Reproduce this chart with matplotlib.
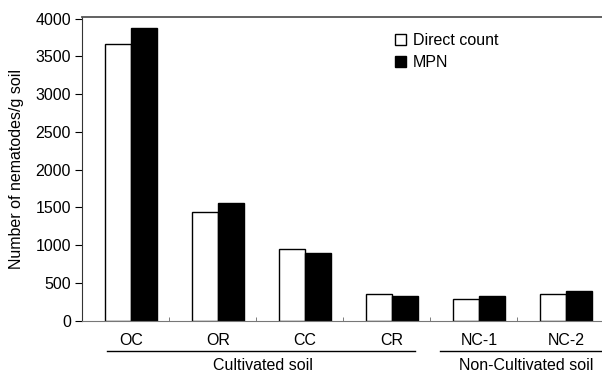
import matplotlib.pyplot as plt
from matplotlib.patches import Patch
import numpy as np

# values (nematodes per g soil)
sites = ["OC", "OR", "CC", "CR", "NC-1", "NC-2"]
direct_count = [3670, 1440, 950, 350, 290, 350]
mpn = [3870, 1565, 895, 330, 330, 400]
groups = ["Cultivated soil", "Non-Cultivated soil"]

plt.rcParams['font.family'] = ['Liberation Sans', 'DejaVu Sans']
plt.rcParams['font.size'] = 11.5

fig = plt.figure(figsize=(6.02, 3.76), dpi=100)
ax = fig.add_axes([0.136, 0.147, 0.864, 0.807])

x = np.arange(len(sites))
w = 0.3
ax.bar(x - w / 2, direct_count, w, color='white', edgecolor='black', linewidth=1.0)
ax.bar(x + w / 2, mpn, w, color='black', edgecolor='black', linewidth=1.0)

ax.set_xlim(-0.563, 5.414)
ax.set_ylim(0, 4018)
ax.set_yticks(range(0, 4001, 500))
ax.set_xticks(x)
ax.set_xticklabels(sites)
ax.tick_params(axis='x', length=0, pad=9)
ax.tick_params(axis='y', length=5, width=0.8, pad=3)
ax.set_xticks(x[:-1] + 0.44, minor=True)
ax.tick_params(axis='x', which='minor', direction='in', length=3, color='#666')

ax.spines['right'].set_visible(False)
ax.spines['top'].set_color('#555')
ax.spines['top'].set_linewidth(1.3)
ax.spines['bottom'].set_color('#777')
ax.spines['bottom'].set_linewidth(0.8)
ax.spines['left'].set_color('#333')

ax.set_ylabel("Number of nematodes/g soil", labelpad=8)

# group brackets under the site labels
trans = ax.get_xaxis_transform()
ax.plot([-0.276, 3.264], [-0.1, -0.1], color='black', lw=1.0, transform=trans, clip_on=False)
ax.plot([3.55, 5.6], [-0.1, -0.1], color='black', lw=1.0, transform=trans, clip_on=False)
ax.text(1.517, -0.147, groups[0], transform=trans, ha='center', va='center')
ax.text(4.54, -0.147, groups[1], transform=trans, ha='center', va='center')

handles = [Patch(facecolor='white', edgecolor='black', linewidth=1.0),
           Patch(facecolor='black', edgecolor='black', linewidth=1.0)]
ax.legend(handles, ["Direct count", "MPN"], loc='upper left', bbox_to_anchor=(0.602, 0.948),
          frameon=False, borderpad=0, borderaxespad=0, handlelength=0.7, handleheight=0.7,
          handletextpad=0.4, labelspacing=0.42)

fig.savefig("out.png", dpi=100)
